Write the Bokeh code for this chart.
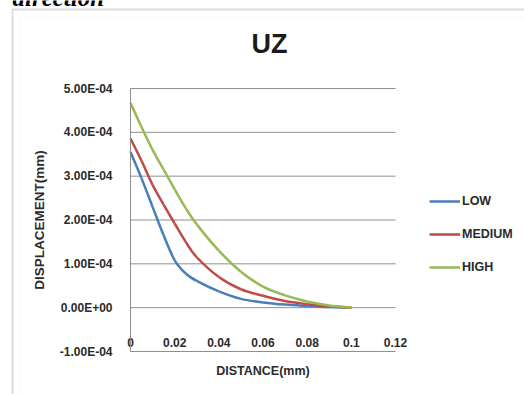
import numpy as np
from bokeh.plotting import figure
from bokeh.models import (Range1d, FixedTicker, CustomJSTickFormatter, Legend,
                          LegendItem, Label, BoxAnnotation)
from bokeh.embed import file_html
from bokeh.resources import INLINE

# Displacement UZ versus distance for three load levels
distance = [0, 0.005, 0.01, 0.015, 0.02, 0.025, 0.03, 0.04, 0.05, 0.06, 0.07, 0.08, 0.09, 0.1]
low = [3.55e-4, 2.95e-4, 2.30e-4, 1.65e-4, 1.08e-4, 0.78e-4, 0.61e-4, 0.37e-4,
       0.20e-4, 0.12e-4, 0.07e-4, 0.04e-4, 0.015e-4, 0.0]
medium = [3.86e-4, 3.35e-4, 2.80e-4, 2.35e-4, 1.92e-4, 1.50e-4, 1.15e-4, 0.70e-4,
          0.42e-4, 0.27e-4, 0.15e-4, 0.08e-4, 0.03e-4, 0.0]
high = [4.67e-4, 4.12e-4, 3.60e-4, 3.15e-4, 2.70e-4, 2.27e-4, 1.90e-4, 1.30e-4,
        0.82e-4, 0.48e-4, 0.28e-4, 0.14e-4, 0.05e-4, 0.0]

series_names = ["LOW", "MEDIUM", "HIGH"]
series_colors = ["#4A7EBB", "#BE4B48", "#98B954"]

x_ticks = [0, 0.02, 0.04, 0.06, 0.08, 0.1, 0.12]
y_ticks = [-1e-4, 0, 1e-4, 2e-4, 3e-4, 4e-4, 5e-4]

FONT = "Liberation Sans"
TEXT = "#2b2b2b"
GRID = "#8f8f8f"

W, H = 524, 394
# pixel placement of the plotting area inside the chart
PX_LEFT, PX_RIGHT, PX_TOP, PX_BOTTOM = 130, 395, 88, 351
x_lo, x_hi = x_ticks[0], x_ticks[-1]
y_lo, y_hi = y_ticks[0], y_ticks[-1]
sx = (PX_RIGHT - PX_LEFT) / (x_hi - x_lo)
sy = (PX_BOTTOM - PX_TOP) / (y_hi - y_lo)
x_range = Range1d(x_lo - PX_LEFT / sx, x_hi + (W - PX_RIGHT) / sx)
y_range = Range1d(y_lo - (H - PX_BOTTOM) / sy, y_hi + PX_TOP / sy)

p = figure(width=W, height=H, output_backend="svg", toolbar_location=None,
           x_range=x_range, y_range=y_range, min_border=0,
           min_border_left=0, min_border_right=0, min_border_top=0, min_border_bottom=0)
p.outline_line_color = None
p.background_fill_color = "white"
p.border_fill_color = "white"
p.xgrid.visible = False
p.ygrid.visible = False

# horizontal gridlines across the plotting area
p.segment(x0=[x_lo] * len(y_ticks), x1=[x_hi] * len(y_ticks), y0=y_ticks, y1=y_ticks,
          line_color=GRID, line_width=1)

# y axis at x = 0 with scientific labels such as 5.00E-04
yax = p.yaxis[0]
yax.fixed_location = 0
yax.bounds = (y_lo, y_hi)
yax.ticker = FixedTicker(ticks=y_ticks)
yax.formatter = CustomJSTickFormatter(code="""
    const s = tick.toExponential(2).toUpperCase();
    const parts = s.split("E");
    const e = parts[1];
    const sign = e[0] === "-" ? "-" : "+";
    const digits = e.replace("+", "").replace("-", "").padStart(2, "0");
    return parts[0] + "E" + sign + digits;
""")
yax.axis_label = "DISPLACEMENT(mm)"
yax.axis_label_text_font = FONT
yax.axis_label_text_font_style = "bold"
yax.axis_label_text_font_size = "13.5px"
yax.axis_label_text_color = TEXT
yax.axis_label_standoff = 10
yax.major_label_text_font = FONT
yax.major_label_text_font_style = "bold"
yax.major_label_text_font_size = "12px"
yax.major_label_text_color = TEXT
yax.major_label_standoff = 12
yax.major_tick_line_color = None
yax.minor_tick_line_color = None
yax.axis_line_color = GRID

# x axis crossing at zero, labels under the zero line
xax = p.xaxis[0]
xax.fixed_location = 0
xax.bounds = (x_lo, x_hi)
xax.ticker = FixedTicker(ticks=x_ticks)
xax.formatter = CustomJSTickFormatter(code="return String(parseFloat(tick.toFixed(4)));")
xax.axis_label = "DISTANCE(mm)"
xax.axis_label_text_font = FONT
xax.axis_label_text_font_style = "bold"
xax.axis_label_text_font_size = "12.5px"
xax.axis_label_text_color = TEXT
xax.axis_label_standoff = 14
xax.major_label_text_font = FONT
xax.major_label_text_font_style = "bold"
xax.major_label_text_font_size = "12px"
xax.major_label_text_color = TEXT
xax.major_label_standoff = 24
xax.major_tick_line_color = None
xax.minor_tick_line_color = None
xax.axis_line_color = None


def smooth_segments(xs, ys, tension=1 / 6):
    """Cubic Bezier pieces through every point (Catmull-Rom style smoothing)."""
    xs = np.asarray(xs, dtype=float)
    ys = np.asarray(ys, dtype=float)
    n = len(xs)
    px = np.concatenate([[xs[0]], xs, [xs[-1]]])
    py = np.concatenate([[ys[0]], ys, [ys[-1]]])
    out = dict(x0=[], y0=[], x1=[], y1=[], cx0=[], cy0=[], cx1=[], cy1=[])
    for i in range(n - 1):
        a, b, c, d = i, i + 1, i + 2, i + 3
        out["x0"].append(px[b]); out["y0"].append(py[b])
        out["x1"].append(px[c]); out["y1"].append(py[c])
        out["cx0"].append(px[b] + (px[c] - px[a]) * tension)
        out["cy0"].append(py[b] + (py[c] - py[a]) * tension)
        out["cx1"].append(px[c] - (px[d] - px[b]) * tension)
        out["cy1"].append(py[c] - (py[d] - py[b]) * tension)
    return out


renderers = []
for name, ys, color in zip(series_names, [low, medium, high], series_colors):
    r = p.bezier(**smooth_segments(distance, ys), line_color=color, line_width=2.5)
    renderers.append((name, r))

legend = Legend(items=[LegendItem(label=n, renderers=[r]) for n, r in renderers],
                location=(429, H - 277), orientation="vertical",
                glyph_width=31, glyph_height=20, label_height=20,
                spacing=13, padding=0, margin=0, label_standoff=2,
                border_line_color=None, background_fill_alpha=0,
                label_text_font=FONT, label_text_font_style="bold",
                label_text_font_size="12.5px", label_text_color=TEXT)
p.add_layout(legend)

# chart title
p.add_layout(Label(x=269, y=H - 43, x_units="screen", y_units="screen", text="UZ",
                   text_align="center", text_baseline="middle",
                   text_font=FONT, text_font_style="bold", text_font_size="27px",
                   text_color="#1a1a1a"))

# caption line above the chart, only its lower part lies on the page
p.add_layout(Label(x=12, y=H + 3, x_units="screen", y_units="screen", text="direction",
                   text_align="left", text_baseline="alphabetic",
                   text_font="Liberation Serif", text_font_style="bold italic",
                   text_font_size="25px", text_color="black"))

# chart area border
p.add_layout(BoxAnnotation(left=12, right=W + 50, top=H - 9, bottom=-50,
                           left_units="screen", right_units="screen",
                           top_units="screen", bottom_units="screen",
                           fill_alpha=0, line_color="#8a8a8a", line_width=2))
p.add_layout(BoxAnnotation(left=20, right=W + 50, top=H - 17, bottom=-50,
                           left_units="screen", right_units="screen",
                           top_units="screen", bottom_units="screen",
                           fill_alpha=0, line_color="#eeeeee", line_width=1))

open("out.html", "w").write(file_html(p, INLINE))
